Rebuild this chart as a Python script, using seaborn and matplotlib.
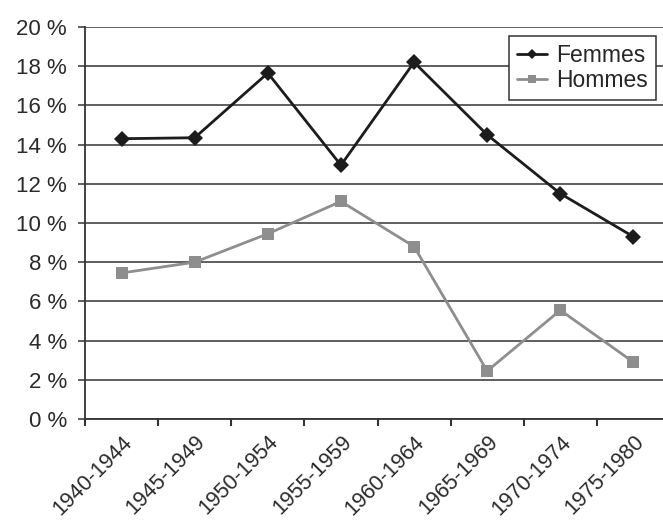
import seaborn as sns
import matplotlib.pyplot as plt
import pandas as pd

# data
periods = ["1940-1944", "1945-1949", "1950-1954", "1955-1959",
           "1960-1964", "1965-1969", "1970-1974", "1975-1980"]
femmes = [14.3, 14.35, 17.65, 12.95, 18.2, 14.5, 11.5, 9.3]
hommes = [7.45, 8.0, 9.45, 11.1, 8.8, 2.45, 5.55, 2.9]
y_ticks = [0, 2, 4, 6, 8, 10, 12, 14, 16, 18, 20]

df = pd.DataFrame({
    "x": list(range(len(periods))) * 2,
    "valeur": femmes + hommes,
    "sexe": ["Femmes"] * len(periods) + ["Hommes"] * len(periods),
})

sns.set_style("white")
plt.rcParams['font.family'] = ['Liberation Sans', 'DejaVu Sans']

fig = plt.figure(figsize=(6.63, 5.21), dpi=100)
ax = fig.add_axes([85 / 663, 1 - 419 / 521, 585 / 663, 392 / 521])

sns.lineplot(
    data=df, x="x", y="valeur", hue="sexe", style="sexe",
    palette={"Femmes": "#1c1c1c", "Hommes": "#8e8e8e"},
    markers={"Femmes": "D", "Hommes": "s"},
    dashes=False, markersize=8, linewidth=2, markeredgewidth=0,
    ax=ax,
)

ax.set_ylim(0, 20)
ax.set_xlim(-0.5, len(periods) - 0.5)
ax.set_yticks(y_ticks)
ax.set_yticklabels([f"{v} %" for v in y_ticks], fontsize=16, color="#2a2a2a")
ax.yaxis.grid(True, color="#333333", linewidth=1.1)
ax.set_axisbelow(True)

# x ticks at boundaries, labels at centres
ax.set_xticks([i - 0.5 for i in range(len(periods))])
ax.set_xticklabels([])
ax.set_xticks(range(len(periods)), minor=True)
ax.set_xticklabels(periods, minor=True, rotation=45, ha="right",
                   rotation_mode="anchor", fontsize=15.5, color="#2a2a2a")
ax.tick_params(axis="x", which="major", direction="out", length=5,
               width=1.5, color="#333333", bottom=True)
ax.tick_params(axis="x", which="minor", length=0, pad=9)
ax.tick_params(axis="y", direction="out", length=5, width=1.1,
               color="#333333", left=True, pad=8)

for side in ["top", "right"]:
    ax.spines[side].set_visible(False)
for side in ["left", "bottom"]:
    ax.spines[side].set_color("#333333")
    ax.spines[side].set_linewidth(1.3)

ax.set_xlabel("")
ax.set_ylabel("")

leg = ax.legend(title=None, loc="upper left",
                bbox_to_anchor=(424 / 585, 1 - 9 / 392),
                fontsize=16.5, frameon=True, fancybox=False,
                borderpad=0.35, labelspacing=0.1, handlelength=1.3,
                handletextpad=0.4, markerscale=0.7, borderaxespad=0)
leg.get_frame().set_edgecolor("#333333")
leg.get_frame().set_linewidth(1.1)
leg.get_frame().set_alpha(1)

fig.savefig("out.png", dpi=100)
